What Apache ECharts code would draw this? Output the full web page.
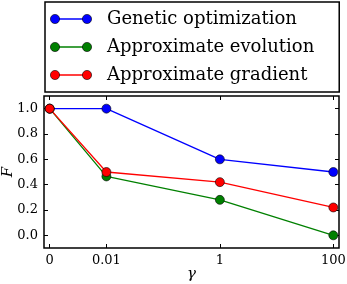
<!DOCTYPE html>
<html><head><meta charset="utf-8">
<script src="https://cdn.jsdelivr.net/npm/echarts@6/dist/echarts.min.js"></script>
<style>html,body{margin:0;padding:0;background:#fff}#c{width:347px;height:284px}</style>
</head><body><div id="c"></div>
<script>
const categories = ['0', '0.01', '1', '100'];
const xPositions = [-3, -2, 0, 2]; // log10 positions (0 drawn one decade left of 0.01)
const genetic = [1.0, 1.0, 0.6, 0.5];
const evolution = [1.0, 0.465, 0.28, 0.0];
const gradient = [1.0, 0.5, 0.42, 0.22];
const yTicks = [0.0, 0.2, 0.4, 0.6, 0.8, 1.0];
const names = ['Genetic optimization', 'Approximate evolution', 'Approximate gradient'];
const colors = ['#0000ff', '#008000', '#ff0000'];

function icon(c) {
  const svg = '<svg xmlns="http://www.w3.org/2000/svg" width="52" height="11" viewBox="0 0 52 11">' +
    '<line x1="5" y1="5.5" x2="37" y2="5.5" stroke="' + c + '" stroke-width="1.3"/>' +
    '<circle cx="5" cy="5.5" r="4.6" fill="' + c + '" stroke="#000" stroke-width="0.6"/>' +
    '<circle cx="37" cy="5.5" r="4.6" fill="' + c + '" stroke="#000" stroke-width="0.6"/></svg>';
  return 'image://data:image/svg+xml;charset=utf-8,' + encodeURIComponent(svg);
}
const font = 'DejaVu Serif';
const pts = arr => arr.map((v, i) => [xPositions[i], v]);
const series = [genetic, evolution, gradient].map((d, i) => ({
  name: names[i], type: 'line', data: pts(d), symbol: 'circle', symbolSize: 9,
  lineStyle: { color: colors[i], width: 1.3 },
  itemStyle: { color: colors[i], borderColor: '#000', borderWidth: 0.6 },
  emphasis: { disabled: true }, animation: false, clip: false
}));
const labelMap = {};
xPositions.forEach((p, i) => labelMap[p] = categories[i]);
const chart = echarts.init(document.getElementById('c'), null, { renderer: 'canvas' });
const common = { axisLine: { show: false, onZero: false }, splitLine: { show: false } };
chart.setOption({
  animation: false,
  textStyle: { fontFamily: font },
  legend: {
    orient: 'vertical', left: 45, top: 2,
    padding: [7, 25, 7, 5],
    borderColor: '#000', borderWidth: 1.5,
    itemWidth: 52, itemHeight: 11, itemGap: 8, itemTextGap: 5,
    textStyle: { fontFamily: font, fontSize: 18, color: '#000', lineHeight: 20 },
    data: names.map((n, i) => ({ name: n, icon: icon(colors[i]) })),
    selectedMode: false
  },
  grid: { left: 44, right: 8, top: 96, bottom: 36, show: true, borderColor: '#000', borderWidth: 1.5, outerBoundsMode: 'none', containLabel: false },
  xAxis: [{
    type: 'value', min: -3.1, max: 2.1, ...common,
    name: 'γ', nameLocation: 'middle', nameGap: 19, nameMoveOverlap: false,
    nameTextStyle: { fontFamily: font, fontStyle: 'italic', fontSize: 15, color: '#000' },
    axisTick: { inside: true, length: 4, customValues: xPositions, lineStyle: { color: '#000' } },
    axisLabel: { customValues: xPositions, formatter: v => labelMap[v] ?? '', color: '#000', fontSize: 13, margin: 6 }
  }, {
    type: 'value', position: 'top', min: -3.1, max: 2.1, ...common,
    axisTick: { inside: true, length: 4, customValues: xPositions, lineStyle: { color: '#000' } },
    axisLabel: { show: false }
  }],
  yAxis: [{
    type: 'value', min: -0.1, max: 1.1, ...common,
    name: 'F', nameLocation: 'middle', nameGap: 28, nameRotate: 90, nameMoveOverlap: false,
    nameTextStyle: { fontFamily: font, fontStyle: 'italic', fontSize: 15, color: '#000' },
    axisTick: { inside: true, length: 4, customValues: yTicks, lineStyle: { color: '#000' } },
    axisLabel: { customValues: yTicks, formatter: v => v.toFixed(1), color: '#000', fontSize: 13, margin: 6 }
  }, {
    type: 'value', position: 'right', min: -0.1, max: 1.1, ...common,
    axisTick: { inside: true, length: 4, customValues: yTicks, lineStyle: { color: '#000' } },
    axisLabel: { show: false }
  }],
  series: series
});
</script></body></html>
